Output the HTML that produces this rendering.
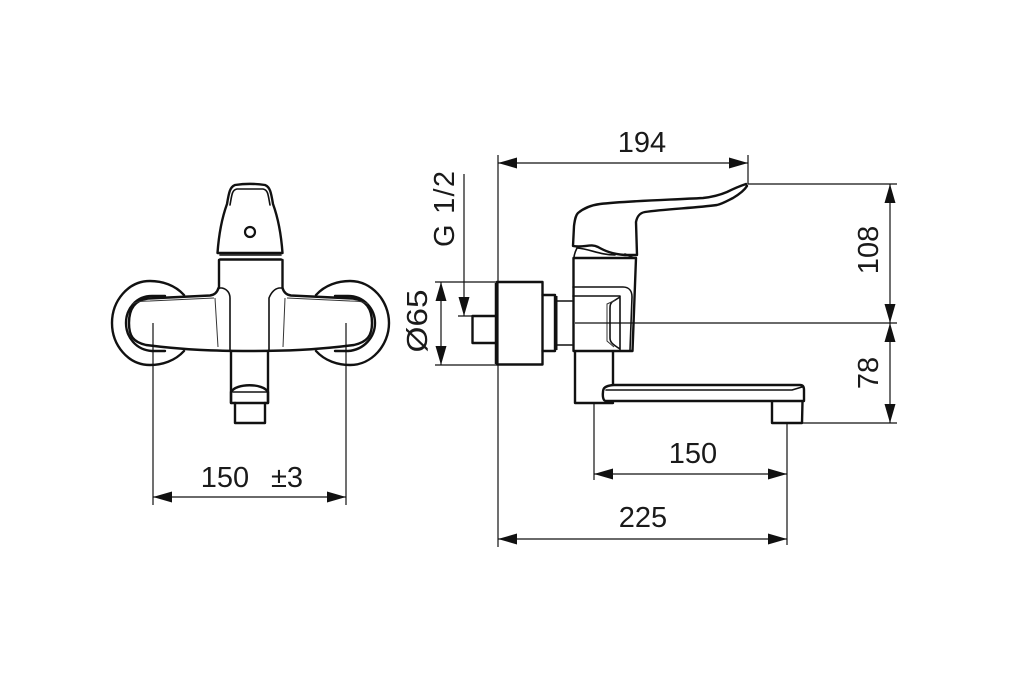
<!DOCTYPE html>
<html><head><meta charset="utf-8"><style>
html,body{margin:0;padding:0;background:#fff}
svg{display:block}
text{font-family:"Liberation Sans",sans-serif;font-size:29px;fill:#1a1a1a;text-anchor:middle}
.t{fill:none;stroke:#111;stroke-width:1.6;stroke-linejoin:round;stroke-linecap:round}
.k{fill:none;stroke:#111;stroke-width:2.4;stroke-linejoin:round;stroke-linecap:round}
.m{fill:none;stroke:#333;stroke-width:1}
.d{fill:none;stroke:#111;stroke-width:1.2}
.a{fill:#111;stroke:none}
</style></head><body>
<svg width="1024" height="673" viewBox="0 0 1024 673" xmlns="http://www.w3.org/2000/svg">
<rect width="1024" height="673" fill="#fff"/>

<!-- FRONT VIEW -->
<path class="k" d="M184 295C175 285 162 281 150 281C128 281 112 301 112 323C112 345 128 365 150 365C162 365 175 361 184 351"/>
<path class="k" d="M316 295C325 285 338 281 350 281C372 281 389 301 389 323C389 345 372 365 350 365C338 365 325 361 316 351"/>
<path class="k" d="M165 296H152C136 296 126 309 126 323C126 337 136 350 152 351H165"/>
<path class="k" d="M335 296H348C364 296 375 309 375 323C375 337 364 350 348 351H335"/>
<path class="k" d="M217.500 253C219 232 223 215 227 204C229 192 230 187 235 185C245 183.500 255 183.500 265 185C270 187 271 192 273 204C277 215 281 232 282.500 253Z" fill="#fff"/>
<path class="t" d="M230 205C232 194 232 190 237 189H263C268 190 268 194 270 205"/>
<circle cx="250" cy="232" r="5" fill="none" stroke="#111" stroke-width="2.200"/>
<path class="t" d="M220 255H281"/>
<path class="k" d="M220 259.500H281"/>
<path class="k" d="M219 260V288M282.500 260V288"/>
<path class="k" d="M218.500 288C217 293 214 295 210 295.500L148 298.500C134 300 129 310 129 323C129 336 133 342 146 345C185 350 215 351 250 351C285 351 315 350 354 345C367 342 372 336 372 323C372 310 367 300 353 298.500L291 295.500C287 295 284 293 282.500 288"/>
<path class="m" d="M132 304C138 301 145 301 150 301L214 298M368 304C362 301 355 301 350 301L287 298"/>
<path class="t" d="M219 288H222C227 289 230 293 230 298V351M282 288H279C274 289 271 293 269 298V351"/>
<path class="m" d="M215 298L218 347M285 298L283 347"/>
<path class="k" d="M231 351V403M268 351V403"/>
<path class="k" d="M231 403V392C236 383 263 383 268 392V403Z"/>
<path class="t" d="M233 392H267"/>
<path class="k" d="M235 403V423H265V403"/>

<!-- SIDE VIEW -->
<path class="k" d="M497 282H542.500V364.500H497Z"/>
<path d="M496.500 283V364" stroke="#111" stroke-width="3.500" fill="none"/>
<path class="k" d="M542.500 295H555V351H542.500"/>
<path d="M556 296V350" stroke="#111" stroke-width="3" fill="none"/>
<path class="t" d="M556 301H572M556 345H572"/>
<path class="k" d="M495 316H472.500V343H495"/>
<path class="k" d="M573.500 258V351H632.500L636 258Z"/>
<path class="t" d="M573 287H623C629 287 632 291 632 297L630 350"/>
<path class="t" d="M573 296H620V350M620 297L612 302C610 304 610 306 610 310V338C610 342 612 344 620 349"/>
<path class="m" d="M616 300L607 304V341L614 347"/>
<path class="k" d="M575 352V403H613M613 352V385"/>
<path class="k" d="M613 385H800C803 385 804 387 804 390V401H606C603 401 602.500 396 603 392C603 388 605 386 613 385Z" fill="#fff"/>
<path class="t" d="M606 390H792L802 387"/>
<path class="k" d="M772 401.500V423H802L802.500 401.500"/>
<path class="k" d="M573 246L574 226C575 218 576 215 578 213C584 208 592 205 600 204C625 201 665 200 703 198C712 197 720 195 727 192C733 189 740 186 746 184L747 186C744 191 738 195 733 198C727 201 722 204 717 205C695 208 665 209 645 212C639 213 637 217 636 222L637 255H625C612 254 605 251 598 247C590 243 585 248 573 246Z" fill="#fff"/>
<path class="t" d="M577 248C575 252 574 255 574 258M625 254L634 258M577 248C590 249 600 255 615 255"/>

<!-- DIMENSION LINES -->
<path class="d" d="M498 155V547M748 155V184M748 184H897M575 323H897M790 423H897"/>
<path class="d" d="M435 282H497M435 365H497M458 316H472"/>
<path class="d" d="M594 403V480M787 423V545"/>
<path class="d" d="M153 323V505M346 323V505"/>
<path class="d" d="M498 163H748M594 474H787M498 539H787M153 497H346"/>
<path class="d" d="M890 184V423M441 282V365M464 174V316"/>

<!-- ARROWS -->
<path class="a" d="M498 163l19-5.500v11zM748 163l-19-5.500v11z"/>
<path class="a" d="M594 474l19-5.500v11zM787 474l-19-5.500v11z"/>
<path class="a" d="M498 539l19-5.500v11zM787 539l-19-5.500v11z"/>
<path class="a" d="M153 497l19-5.500v11zM346 497l-19-5.500v11z"/>
<path class="a" d="M890 184l-5.500 19h11zM890 323l-5.500-19h11zM890 323l-5.500 19h11zM890 423l-5.500-19h11z"/>
<path class="a" d="M441 282l-5.500 19h11zM441 365l-5.500-19h11z"/>
<path class="a" d="M464 316l-5.500-19h11z"/>

<!-- LABELS -->
<text x="642" y="152">194</text>
<text x="693" y="463">150</text>
<text x="643" y="527">225</text>
<text x="225" y="487">150</text>
<text x="287" y="487">±3</text>
<text transform="translate(878 250) rotate(-90)">108</text>
<text transform="translate(878 373) rotate(-90)">78</text>
<text transform="translate(454 209) rotate(-90)" textLength="76" lengthAdjust="spacing">G 1/2</text>
<text transform="translate(427 321) rotate(-90)" textLength="63" lengthAdjust="spacingAndGlyphs">Ø65</text>
</svg>
</body></html>
